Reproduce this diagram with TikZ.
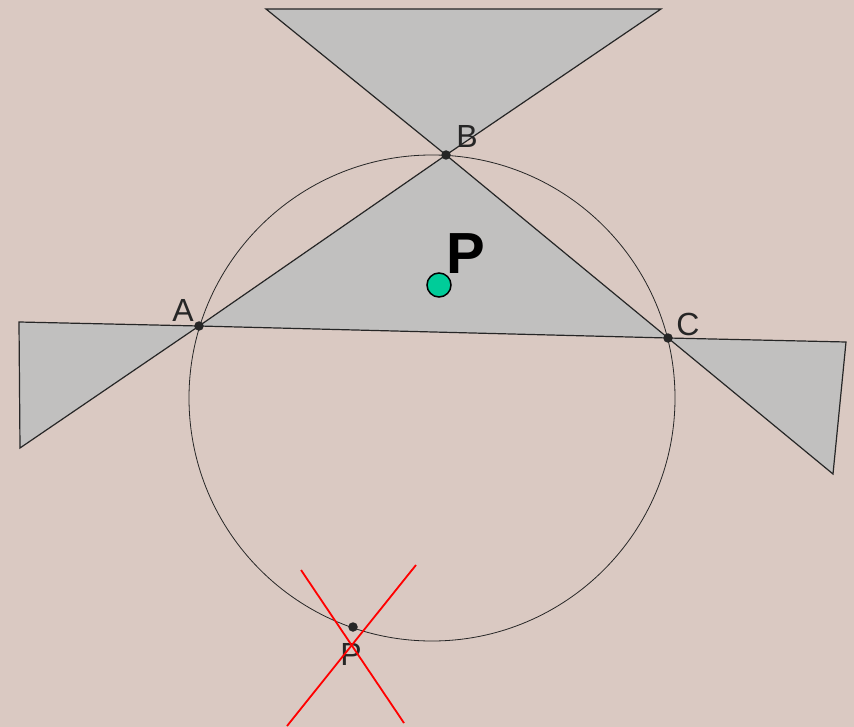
\documentclass[tikz,border=0pt]{standalone}
\usepackage{fontspec}
\setmainfont{Liberation Sans}
\definecolor{bgc}{HTML}{DAC9C2}
\definecolor{regc}{HTML}{C1C0BF}
\definecolor{linec}{HTML}{262626}
\definecolor{greenc}{HTML}{00CC99}
\tikzset{
  region/.style={fill=regc, draw=linec, line width=1.2pt, line join=miter},
  ptdot/.style={circle, fill=linec, inner sep=0pt, minimum size=9.5pt},
  lbl/.style={text=linec, font=\fontsize{32}{32}\selectfont, inner sep=0pt},
  redline/.style={draw=red, line width=1.8pt},
}
\begin{document}
\begin{tikzpicture}[x=1pt,y=-1pt]
\fill[bgc] (0,0) rectangle (854,727);
\useasboundingbox (0,0) rectangle (854,727);
\coordinate (A) at (199,326);
\coordinate (B) at (446,155);
\coordinate (C) at (668,338);
\coordinate (T1) at (266,9);
\coordinate (T2) at (661,9);
\coordinate (L1) at (19,322);
\coordinate (L2) at (20,448);
\coordinate (R1) at (846,342);
\coordinate (R2) at (833,474);
\coordinate (O) at (432,398);
% shaded regions
\draw[region] (T1) -- (T2) -- (B) -- cycle;
\draw[region] (A) -- (B) -- (C) -- cycle;
\draw[region] (L1) -- (A) -- (L2) -- cycle;
\draw[region] (C) -- (R1) -- (R2) -- cycle;
% circle
\draw[linec, line width=0.8pt] (O) circle[radius=243];
% points
\node[ptdot] (pA) at (A) {};
\node[ptdot] (pB) at (B) {};
\node[ptdot] (pC) at (C) {};
\node[ptdot] (pP) at (353,627) {};
\node[lbl] (lA) at (183,310) {A};
\node[lbl] (lB) at (467,136) {B};
\node[lbl] (lC) at (688,324) {C};
\node[lbl] (lP) at (351,654) {P};
% red cross
\coordinate (X1) at (301,570);
\coordinate (X2) at (404,723);
\coordinate (X3) at (416,565);
\coordinate (X4) at (287,726);
\draw[redline] (X1) -- (X2);
\draw[redline] (X3) -- (X4);
% green point
\node[circle, fill=greenc, draw=black, line width=1.5pt, minimum size=24pt, inner sep=0pt] (G) at (439,285) {};
\node[font=\fontsize{58}{58}\selectfont\bfseries, text=black, inner sep=0pt] (lG) at (466,254) {P};
\end{tikzpicture}
\end{document}
